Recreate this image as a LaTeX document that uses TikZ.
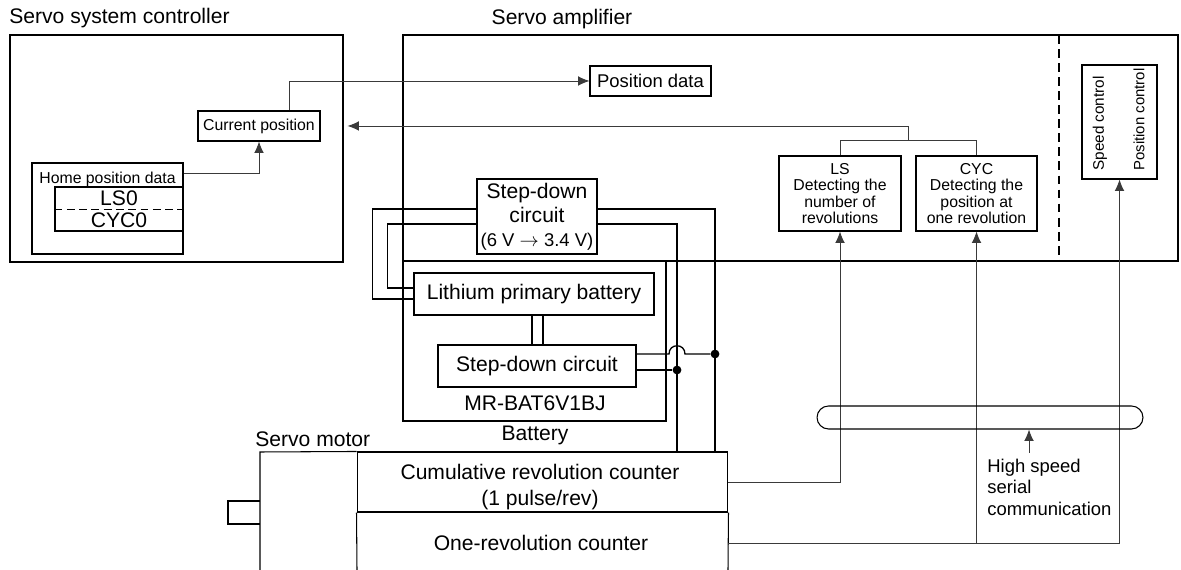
\documentclass[tikz,border=0pt]{standalone}
\usepackage{fontspec}
\setmainfont{Liberation Sans}
\usepackage{tikz}
\usetikzlibrary{
arrows.meta,
positioning,
calc
}
\definecolor{LineGray}{HTML}{3A3A3A}

\begin{document}
\begin{tikzpicture}[x=0.02cm,y=-0.02cm,>=Latex,
        box/.style={draw, line width=0.6pt, inner sep=0pt, align=center},
        lbl/.style={inner sep=0pt, font=\fontsize{12}{13.6}\selectfont},
        big/.style={font=\fontsize{12}{13.6}\selectfont},
        small/.style={font=\fontsize{9}{9.2}\selectfont},
        mid/.style={font=\fontsize{10.5}{12.2}\selectfont},
        sig/.style={LineGray, line width=0.5pt},
        arr/.style={sig, -{Latex[length=6.5pt,width=5.5pt]}},
        pwr/.style={black, line width=0.75pt},
        dot/.style={circle, fill, inner sep=0pt, minimum size=5pt}]
        \useasboundingbox (0,0) rectangle (1181,570);

        \draw[line width=0.6pt] (10,35) rectangle (343,262);
        \draw[line width=0.6pt] (403,35) rectangle (1178,261);
        \draw[line width=0.6pt, dash pattern=on 5pt off 3pt] (1059,35) -- (1059,261);
        \draw[line width=0.6pt] (403,261) rectangle (666,421);

        \node[lbl, anchor=west] (ctrltitle) at (9,18) {Servo system controller};
        \node[lbl] (amptitle) at (562,19) {Servo amplifier};
        \node[lbl, anchor=west] (mottitle) at (255,439) {Servo motor};

        \node[box, small, minimum width=2.44cm, minimum height=0.6cm] (curpos) at (259,126) {Current position};
        \node[box, minimum width=3.02cm, minimum height=1.82cm] (home) at (107.5,208.5) {};
        \node[small, inner sep=0pt] (homelbl) at (107.5,179) {Home position data};
        \node[box, minimum width=2.56cm, minimum height=0.88cm] (lscyc) at (119,209) {};
        \draw[line width=0.5pt, dash pattern=on 4.5pt off 2.5pt] (lscyc.west) -- (lscyc.east);
        \node[lbl] (ls0) at (119,198) {LS0};
        \node[lbl] (cyc0) at (119,220) {CYC0};
        \draw[arr] ($(home.north east)+(0,11)$) -| (curpos.south);

        \node[box, mid, minimum width=2.42cm, minimum height=0.6cm] (posdata) at (650.5,81) {Position data};
        \draw[arr] ($(curpos.north)+(30,0)$) |- (posdata.west);

        \node[box, small, minimum width=2.44cm, minimum height=1.5cm] (ls) at (840,193.5) {LS\\Detecting the\\number of\\revolutions};
        \node[box, small, minimum width=2.42cm, minimum height=1.5cm] (cyc) at (976.5,193.5) {CYC\\Detecting the\\position at\\one revolution};
        \draw[sig] (ls.north) -- ++(0,-15) -| (cyc.north);
        \coordinate (bus) at (908,141);
        \draw[arr] (bus) |- ($(curpos.east)+(27,0)$);

        \node[box, minimum width=1.5cm, minimum height=2.28cm] (ctl) at (1119.5,122) {};
        \node[rotate=90, anchor=west, inner sep=0pt, font=\fontsize{8.7}{9}\selectfont] (spd) at (1100,171) {Speed control};
        \node[rotate=90, anchor=west, inner sep=0pt, font=\fontsize{8.5}{9}\selectfont] (posc) at (1139,171) {Position control};

        \node[box, big, minimum width=2.4cm, minimum height=1.5cm] (sdu) at (537,216.5) {Step-down\\circuit\\{\fontsize{10.5}{12}\selectfont(6 V $\rightarrow$ 3.4 V)}};
        \node[box, big, minimum width=4.8cm, minimum height=0.84cm] (lith) at (534,294) {Lithium primary battery};
        \node[box, big, minimum width=3.96cm, minimum height=0.84cm] (sdl) at (537,366) {Step-down circuit};
        \node[lbl] (batmodel) at (535,403) {MR-BAT6V1BJ};
        \node[lbl] (batlbl) at (535,435) {Battery};
        \foreach \dx in {-2,9} {
            \draw[line width=0.6pt] ($(lith.south)+(\dx,0)$) -- ++(0,30);
        }

        \coordinate (pa) at (715,452);
        \coordinate (pb) at (677,452);
        \draw[pwr] ($(sdu.west)+(0,-7.5)$) -- ++(-104,0) |- ($(lith.west)+(0,5)$);
        \draw[pwr] ($(sdu.west)+(0,7.5)$) -- ++(-89,0) |- ($(lith.west)+(0,-6)$);
        \draw[pwr] ($(sdu.east)+(0,-7.5)$) -| (pa);
        \draw[pwr] ($(sdu.east)+(0,7.5)$) -| (pb);
        \node[dot] (ja) at (715,354) {};
        \node[dot] (jb) at (677,370) {};
        \draw[pwr] ($(sdl.east)+(0,-12)$) -- ($(pb |- ja)+(-8,0)$) .. controls +(0,-11) and +(0,-11) .. ($(pb |- ja)+(8,0)$) -- (ja);
        \draw[pwr] ($(sdl.east)+(0,4)$) -- (jb);

        \node[box, minimum width=7.42cm, minimum height=1.2cm] (cum) at (542.5,482) {};
        \node[align=center, inner sep=0pt, font=\fontsize{12}{15.3}\selectfont] (cumlbl) at (540,487) {Cumulative revolution counter\\(1 pulse/rev)};
        \node[lbl] (onerev) at (541,543) {One-revolution counter};
        \draw[line width=0.6pt] (260,570) -- (260,452) -- (cum.north west);
        \draw[line width=0.6pt] (cum.south west) -- (357,570);
        \draw[line width=0.6pt] (cum.south east) -- (728,570);
        \draw[line width=0.6pt] (260,501) -- (228,501) -- (228,524) -- (260,524);

        \draw[arr] (cum.east) -| (ls.south);
        \draw[arr] (cum.east |- onerev) -| (ctl.south);
        \draw[arr] (cyc.south |- onerev) -- (cyc.south);

        \node[draw, line width=0.6pt, rounded corners=0.23cm, minimum width=6.52cm, minimum height=0.46cm] (hss) at (980,417.5) {};
        \draw[arr] ($(hss.south)+(49,23)$) -- ++(0,-23);
        \node[mid, align=left, anchor=west, inner sep=0pt] (hsstxt) at (987,487) {High speed\\serial\\communication};
    \end{tikzpicture}
\end{document}
